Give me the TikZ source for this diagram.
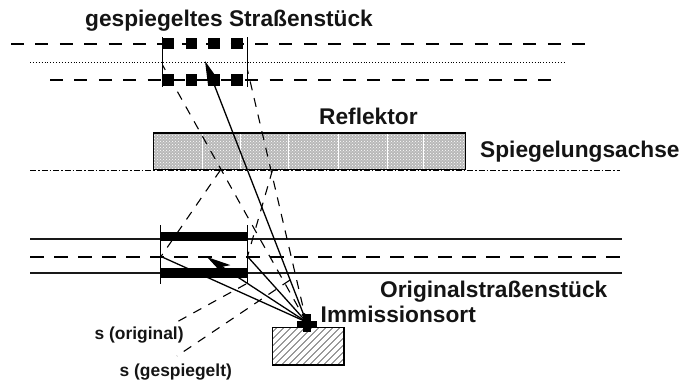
\documentclass[tikz,border=0pt]{standalone}
\usepackage{fontspec}
\setmainfont{Liberation Sans}
\usetikzlibrary{patterns,arrows.meta}
\definecolor{refl}{gray}{0.72}
\tikzset{
 x=1pt,y=-1pt,
 lab/.style={font=\bfseries\fontsize{#1}{#1}\selectfont,inner sep=0pt,anchor=base west,text=black!92},
 mirr/.style={line width=1.5pt,dash pattern=on 13pt off 11.4pt},
 sq/.style={fill=black,draw=none,minimum size=11.5pt,inner sep=0pt},
 bar/.style={fill=black,draw=none},
 ray/.style={line width=1.3pt},
 rayd/.style={line width=1.1pt,dash pattern=on 9pt off 8pt},
 arr/.style={line width=1.3pt,-{Stealth[length=24pt,width=12pt,inset=6pt]}},
 road/.style={line width=2pt,black!90},
}
\begin{document}
\begin{tikzpicture}
\useasboundingbox (0,0) rectangle (681,383);
% named points
\coordinate (S) at (306.5,322);
\coordinate (TL) at (162.5,65);
\coordinate (TR) at (247.5,70);
\coordinate (AM) at (205,61);
\coordinate (AO) at (207,257);
\coordinate (OL) at (161,256.5);
\coordinate (OR) at (247.5,256.5);
\coordinate (RL) at (220.5,170);
\coordinate (RR) at (272.5,170);
% mirrored road
\draw[mirr] (11,43.8) -- (585,43.8);
\draw[mirr] (50,80.2) -- (552,80.2);
\draw[line width=.7pt,dash pattern=on 1pt off 1.9pt] (30,62) -- (566,62);
\draw[line width=1.1pt] (162.5,37) -- (162.5,87);
\draw[line width=1.1pt] (247.5,37) -- (247.5,87);
\foreach \n/\x in {a/168,b/191.5,c/214,d/237}{
 \node[sq] (u\n) at (\x,43.5) {};
 \node[sq] (v\n) at (\x,80) {};
}
% reflector
\fill[refl] (153.5,133) rectangle (465.5,169.5);
\fill[pattern=crosshatch dots,pattern color=white] (153.5,133) rectangle (465.5,169.5);
\foreach \x in {202.5,240,288,338,387,423}
 \draw[white,line width=.7pt] (\x,134) -- (\x,169);
\draw[line width=1.2pt] (153.5,169.5) -- (153.5,133) -- (465.5,133) -- (465.5,169.5);
\draw[line width=.9pt,dash pattern=on 6pt off 2pt on 1.5pt off 2pt] (30,170) -- (620,170);
\draw[line width=1.3pt] (153.5,169.5) -- (465.5,169.5);
% original road
\draw[road] (30,238.5) -- (622,238.5);
\draw[road] (30,272.5) -- (622,272.5);
\draw[line width=2.4pt,dash pattern=on 13.5pt off 10.5pt] (30,257) -- (622,257);
\fill[bar] (160.5,232) rectangle (247.5,241);
\fill[bar] (160.5,268) rectangle (247.5,278);
\draw[line width=1.1pt] (160.5,225) -- (160.5,284);
\draw[line width=1.1pt] (247.5,225) -- (247.5,284);
% rays
\draw[ray] (S) -- (OL);
\draw[ray] (S) -- (OR);
\draw[arr] (S) -- (AO);
\draw[arr] (S) -- (AM);
\draw[rayd] (S) -- (TL);
\draw[rayd] (S) -- (TR);
\draw[rayd] (RL) -- (OL);
\draw[rayd] (RR) -- (OR);
\draw[rayd] (246,284) -- (175,323);
\draw[rayd] (290,280) -- (177,356);
% immission point
\begin{scope}
\clip (272.5,327.5) rectangle (344,365);
\foreach \k in {0,7,...,112}
 \draw[line width=.45pt,black!80] (272.5+\k-40,365) -- (272.5+\k,325);
\end{scope}
\draw[line width=1.1pt] (272.5,327.5) rectangle (344,365);
\fill[black] (303,314) rectangle (311,332);
\fill[black] (297,321) rectangle (317,328);
% labels
\node[lab=22.7] (t1) at (85,26) {gespiegeltes Straßenstück};
\node[lab=22.7] (t2) at (319,124) {Reflektor};
\node[lab=22.7] (t3) at (480,157) {Spiegelungsachse};
\node[lab=22.7] (t4) at (380,297) {Originalstraßenstück};
\node[lab=22.7] (t5) at (320.5,322.5) {Immissionsort};
\node[lab=17.4] (t6) at (94.5,339) {s (original)};
\node[lab=17.4] (t7) at (119.5,376) {s (gespiegelt)};
\end{tikzpicture}
\end{document}
